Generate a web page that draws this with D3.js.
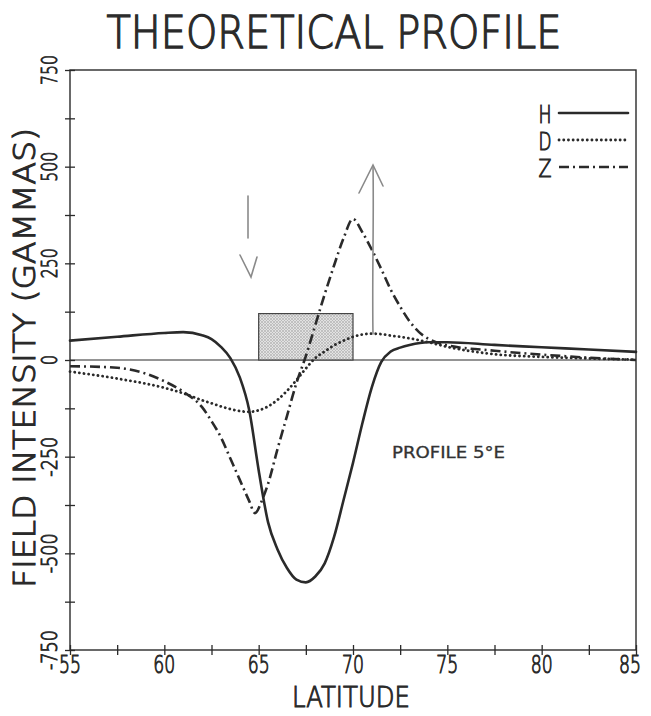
<!DOCTYPE html>
<html><head><meta charset="utf-8">
<script src="https://cdn.jsdelivr.net/npm/d3@7/dist/d3.min.js"></script>
<style>body{margin:0;background:#fff}</style>
</head><body><svg id="c" width="651" height="716"></svg>
<script>
// ---- data ----
const hLat = [55,57.5,60,61,62,62.5,63,63.5,64,64.5,65,65.5,66,66.5,67,67.5,68,68.5,69,69.5,70,70.5,71,71.5,72,72.5,73,74,75,77.5,80,82.5,85];
const hVal = [50,60,70,72,64,54,34,5,-45,-130,-285,-420,-490,-538,-568,-575,-560,-526,-457,-362,-266,-163,-70,-5,22,32,39,46,46,39,33,27,21];
const dLat = [55,57.5,60,61,62,62.5,63,63.5,64,64.5,65,65.5,66,66.5,67,67.5,68,68.5,69,69.5,70,70.5,71,71.5,72,72.5,73,74,75,77.5,80,82.5,85];
const dVal = [-30,-48,-72,-86,-104,-112,-120,-127,-132,-134,-130,-120,-103,-80,-52,-22,5,22,38,50,60,66,68,67,63,60,56,46,34,15,8,4,1];
const zLat = [55,57.5,59,60,61,62,62.5,63,63.5,64,64.5,64.8,65.2,65.5,66,66.5,67,67.5,68,68.5,69,69.5,70,70.5,71,71.5,72,72.5,73,73.5,74,75,77.5,80,82.5,85];
const zVal = [-16,-20,-35,-55,-82,-122,-158,-200,-255,-310,-365,-396,-360,-320,-230,-145,-60,10,90,170,245,315,365,330,285,235,182,138,100,72,55,38,24,14,6,0];
const xTickLabels = ["55","60","65","70","75","80","85"];
const yTickLabels = ["750","500","250","0","-250","-500","-750"];
const seriesNames = ["H","D","Z"];
const boxLat = [65, 70];
const boxVal = [0, 120];

// ---- layout ----
const svg = d3.select("#c");
const L = 70, R = 636, T = 70, B = 650;
const x = d3.scaleLinear().domain([55, 85]).range([L, R]);
const y = d3.scaleLinear().domain([-750, 750]).range([B, T]);
const ink = "#2a2a2a";
const plotFont = "'DejaVu Sans', sans-serif";

function plotText(sel, size, len, sw) {
  return sel.attr("font-family", plotFont).attr("font-weight", 200).attr("font-size", size)
    .attr("fill", ink).style("stroke", ink).style("stroke-width", (sw || 1) + "px")
    .attr("textLength", len).attr("lengthAdjust", "spacingAndGlyphs");
}

// pattern for stippled box
const defs = svg.append("defs");
const pat = defs.append("pattern").attr("id","stip").attr("patternUnits","userSpaceOnUse")
  .attr("width",3).attr("height",3);
pat.append("rect").attr("width",3).attr("height",3).attr("fill","#e2e2e2");
pat.append("circle").attr("cx",1).attr("cy",1).attr("r",0.7).attr("fill","#888");
pat.append("circle").attr("cx",2.5).attr("cy",2.5).attr("r",0.5).attr("fill","#aaa");

// title
plotText(svg.append("text").attr("x", 334).attr("y", 48).attr("text-anchor","middle"), 45, 455, 1.3)
  .text("THEORETICAL PROFILE");

// frame
svg.append("rect").attr("x", L).attr("y", T).attr("width", R-L).attr("height", B-T)
  .attr("fill","none").attr("stroke", ink).attr("stroke-width", 1.4);

// zero line
svg.append("line").attr("x1", L).attr("x2", R).attr("y1", y(0)).attr("y2", y(0))
  .attr("stroke", ink).attr("stroke-width", 1.2);

// shaded box
svg.append("rect").attr("x", x(boxLat[0])).attr("y", y(boxVal[1]))
  .attr("width", x(boxLat[1]) - x(boxLat[0])).attr("height", y(boxVal[0]) - y(boxVal[1]))
  .attr("fill","url(#stip)").attr("stroke","#444").attr("stroke-width",1.2);

// axes with crossing ticks
const xAxis = d3.axisBottom(x).tickValues(d3.range(55, 85.01, 2.5)).tickSize(0).tickFormat("");
const gx = svg.append("g").attr("transform", `translate(0,${B})`).call(xAxis);
gx.select(".domain").remove();
gx.selectAll(".tick").append("line").attr("y1",-5).attr("y2",5).attr("stroke",ink).attr("stroke-width",1.3);
const yAxis = d3.axisLeft(y).tickValues(d3.range(-750, 750.01, 125)).tickSize(0).tickFormat("");
const gy = svg.append("g").attr("transform", `translate(${L},0)`).call(yAxis);
gy.select(".domain").remove();
gy.selectAll(".tick").append("line").attr("x1",-5).attr("x2",5).attr("stroke",ink).attr("stroke-width",1.3);

// x tick labels
svg.append("g").selectAll("text").data(xTickLabels).join("text")
  .attr("x", (d, i) => x(+d) - (i === xTickLabels.length - 1 ? 6 : 0)).attr("y", 673).attr("text-anchor","middle")
  .call(s => plotText(s, 24, null, 1))
  .attr("textLength", d => d.length*11)
  .text(d => d);
// y tick labels (rotated)
svg.append("g").selectAll("text").data(yTickLabels).join("text")
  .attr("transform", d => `translate(57,${y(+d)}) rotate(-90)`).attr("text-anchor","middle")
  .call(s => plotText(s, 22, null, 1))
  .attr("textLength", d => d.length*10)
  .text(d => d);

// axis titles
plotText(svg.append("text").attr("x", 351).attr("y", 707).attr("text-anchor","middle"), 29, 118, 1.1)
  .text("LATITUDE");
plotText(svg.append("text").attr("transform", "translate(35,358) rotate(-90)").attr("text-anchor","middle"), 30, 460, 1.1)
  .text("FIELD INTENSITY (GAMMAS)");

// curves
const line = d3.line().x(d => x(d[0])).y(d => y(d[1])).curve(d3.curveMonotoneX);
const styles = {
  H: {dash: null, cap: "round", w: 2.6},
  D: {dash: "0.1,4.6", cap: "round", w: 2.8},
  Z: {dash: "10,4,2,4", cap: "butt", w: 2.6}
};
const series = [
  {name: "H", pts: d3.zip(hLat, hVal)},
  {name: "D", pts: d3.zip(dLat, dVal)},
  {name: "Z", pts: d3.zip(zLat, zVal)}
];
svg.append("g").selectAll("path").data(series).join("path")
  .attr("d", s => line(s.pts)).attr("fill","none").attr("stroke", ink)
  .attr("stroke-width", s => styles[s.name].w).attr("stroke-linecap", s => styles[s.name].cap)
  .attr("stroke-dasharray", s => styles[s.name].dash);

// legend
const lg = svg.append("g");
seriesNames.forEach((n, i) => {
  const ly = 113 + i*27;
  plotText(lg.append("text").attr("x", 545).attr("y", ly + 10).attr("text-anchor","middle"), 25, 13, 1.1).text(n);
  lg.append("line").attr("x1", 559).attr("x2", 628).attr("y1", ly).attr("y2", ly)
    .attr("stroke", ink).attr("stroke-width", styles[n].w).attr("stroke-linecap", styles[n].cap)
    .attr("stroke-dasharray", styles[n].dash);
});

// annotation text
svg.append("text").attr("x", 392).attr("y", 458)
  .attr("font-family", plotFont).attr("font-size", 15).attr("fill", "#333")
  .style("stroke", "#333").style("stroke-width", "0.3px")
  .attr("textLength", 113).attr("lengthAdjust","spacingAndGlyphs")
  .text("PROFILE 5°E");

// hand-drawn arrows
const pencil = "#8a8a8a";
const arrows = svg.append("g").attr("fill","none").attr("stroke", pencil).attr("stroke-width",1.6).attr("stroke-linecap","round");
arrows.append("path").attr("d", "M248,196 L248,238");
arrows.append("path").attr("d", "M240,255 L251,277 L257,257");
arrows.append("path").attr("d", "M373,334 C372,280 374,220 373,166");
arrows.append("path").attr("d", "M359,193 L373,165 L383,186");
</script></body></html>
